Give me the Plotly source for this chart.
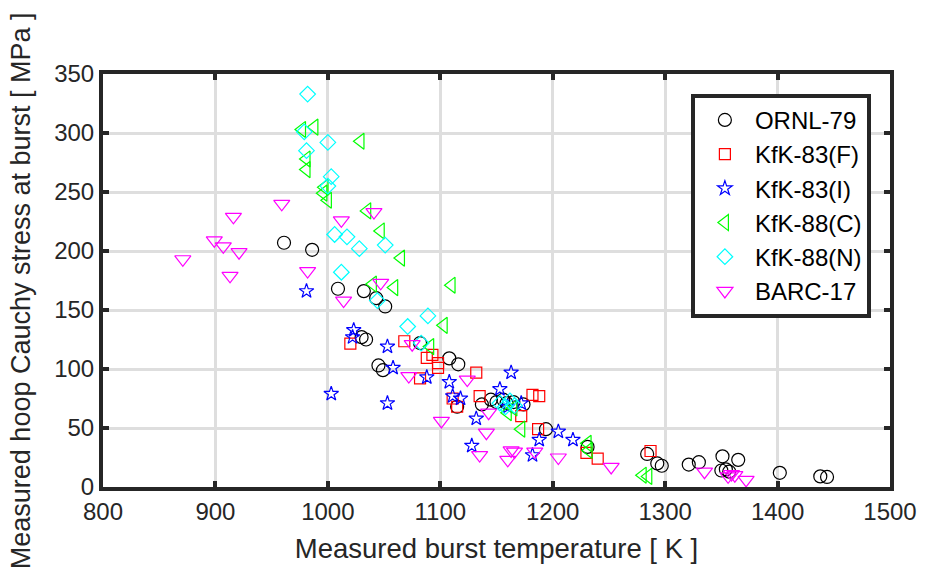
import plotly.graph_objects as go

# Burst temperature [K] and hoop stress at burst [MPa] for each test campaign
ornl79_T = [961, 986, 1009, 1032, 1043, 1051, 1030, 1034, 1045, 1049, 1082, 1108, 1116,
            1115, 1137, 1145, 1150, 1156, 1159, 1165, 1174, 1194, 1231, 1284, 1293, 1297,
            1321, 1330, 1351, 1365, 1350, 1354, 1357, 1402, 1438, 1444]
ornl79_S = [207, 201, 168, 166, 160, 153, 127, 125, 103, 99, 122, 109, 104,
            68, 70, 74, 72, 74, 71, 72, 70, 49, 34, 28, 20, 18,
            19, 21, 26, 23, 14, 15, 13, 12, 9, 8.5]

kfk83f_T = [1020, 1068, 1088, 1093, 1098, 1098, 1082, 1132, 1135, 1111, 1115, 1182,
            1188, 1172, 1187, 1230, 1240, 1287]
kfk83f_S = [121.5, 123.5, 109.5, 112, 105, 101, 92, 97, 77, 75, 68, 78,
            77, 60, 49, 29, 24, 30.5]

kfk83i_T = [981, 1003, 1023, 1022, 1053, 1053, 1058, 1088, 1108, 1111, 1118, 1132, 1128,
            1153, 1163, 1172, 1160, 1182, 1188, 1205, 1218]
kfk83i_S = [166, 79, 133, 127, 119, 71, 101, 93, 89, 77, 75, 58, 35,
            83, 97, 71, 68, 27, 40, 47, 40]

kfk88c_T = [977, 988, 1029, 981, 981, 997, 996, 1000, 1035, 1047, 1065, 1059, 1040,
            1110, 1103, 1091, 1160, 1165, 1172, 1231, 1232, 1280, 1285]
kfk88c_S = [303, 305, 293, 278, 269, 254, 249, 243, 234, 217, 194, 169, 172,
            171, 137, 119, 63, 67, 49, 37, 31, 10, 9]

kfk88n_T = [982, 979, 981, 1000, 1003, 1000, 1006, 1017, 1028, 1051, 1012, 1044, 1071,
            1089, 1083, 1153, 1158, 1162, 1166]
kfk88n_S = [333, 301, 285, 292, 263, 255, 214, 212, 202, 205, 182, 158, 136,
            145, 122, 71, 68, 73, 69]

barc17_T = [871, 899, 907, 921, 913, 916, 959, 982, 1014, 1047, 1012, 1041, 1075, 1072,
            1124, 1101, 1143, 1141, 1135, 1163, 1160, 1166, 1184, 1205, 1252, 1335, 1356,
            1362, 1359, 1372]
barc17_S = [193, 209, 204, 199, 179, 229, 240, 183, 158, 173, 226, 233, 121, 94,
            91, 56, 63, 46, 27, 31, 23, 30, 30, 25, 17, 13, 9,
            10, 11, 6]

x_ticks = [800, 900, 1000, 1100, 1200, 1300, 1400, 1500]
y_ticks = [0, 50, 100, 150, 200, 250, 300, 350]

series = [
    ("ORNL-79", ornl79_T, ornl79_S, "circle-open", "#000000", 13),
    ("KfK-83(F)", kfk83f_T, kfk83f_S, "square-open", "#ff0000", 11),
    ("KfK-83(I)", kfk83i_T, kfk83i_S, "star-open", "#0000ff", 11),
    ("KfK-88(C)", kfk88c_T, kfk88c_S, "triangle-left-open", "#00ff00", 14),
    ("KfK-88(N)", kfk88n_T, kfk88n_S, "diamond-open", "#00ffff", 12),
    ("BARC-17", barc17_T, barc17_S, "triangle-down-open", "#ff00ff", 14),
]

fig = go.Figure()
for name, xs, ys, sym, col, size in series:
    fig.add_trace(go.Scatter(
        x=xs, y=ys, mode="markers", name=name,
        marker=dict(symbol=sym, size=size, color=col, line=dict(color=col, width=1.2)),
    ))

font_family = "Arial, Liberation Sans, sans-serif"
axis_common = dict(
    showline=True, linecolor="#262626", linewidth=4, mirror="allticks",
    ticks="inside", ticklen=6, tickwidth=4, tickcolor="#262626",
    showgrid=True, gridcolor="#dedede", gridwidth=3,
    zeroline=False,
    tickfont=dict(family=font_family, size=24, color="#262626"),
)

fig.update_layout(
    width=929, height=581,
    margin=dict(l=103, r=32, t=74, b=94),
    paper_bgcolor="white", plot_bgcolor="white",
    font=dict(family=font_family, color="#262626"),
    xaxis=dict(range=[800, 1500], tickvals=x_ticks,
               title=dict(text="Measured burst temperature [ K ]",
                          font=dict(family=font_family, size=27.5, color="#262626"), standoff=16),
               **axis_common),
    yaxis=dict(range=[0, 350], tickvals=y_ticks, **axis_common),
    legend=dict(
        x=0.747, y=0.952, xanchor="left", yanchor="top",
        bgcolor="white", bordercolor="#262626", borderwidth=4,
        font=dict(family=font_family, size=24, color="#000000"),
        itemwidth=50,
    ),
    annotations=[dict(
        text="Measured hoop Cauchy stress at burst [ MPa ]",
        xref="paper", yref="paper", x=-0.105, y=0.475,
        xanchor="center", yanchor="middle", textangle=-90, showarrow=False,
        font=dict(family=font_family, size=27, color="#262626"),
    )],
)

fig.write_html("out.html")
